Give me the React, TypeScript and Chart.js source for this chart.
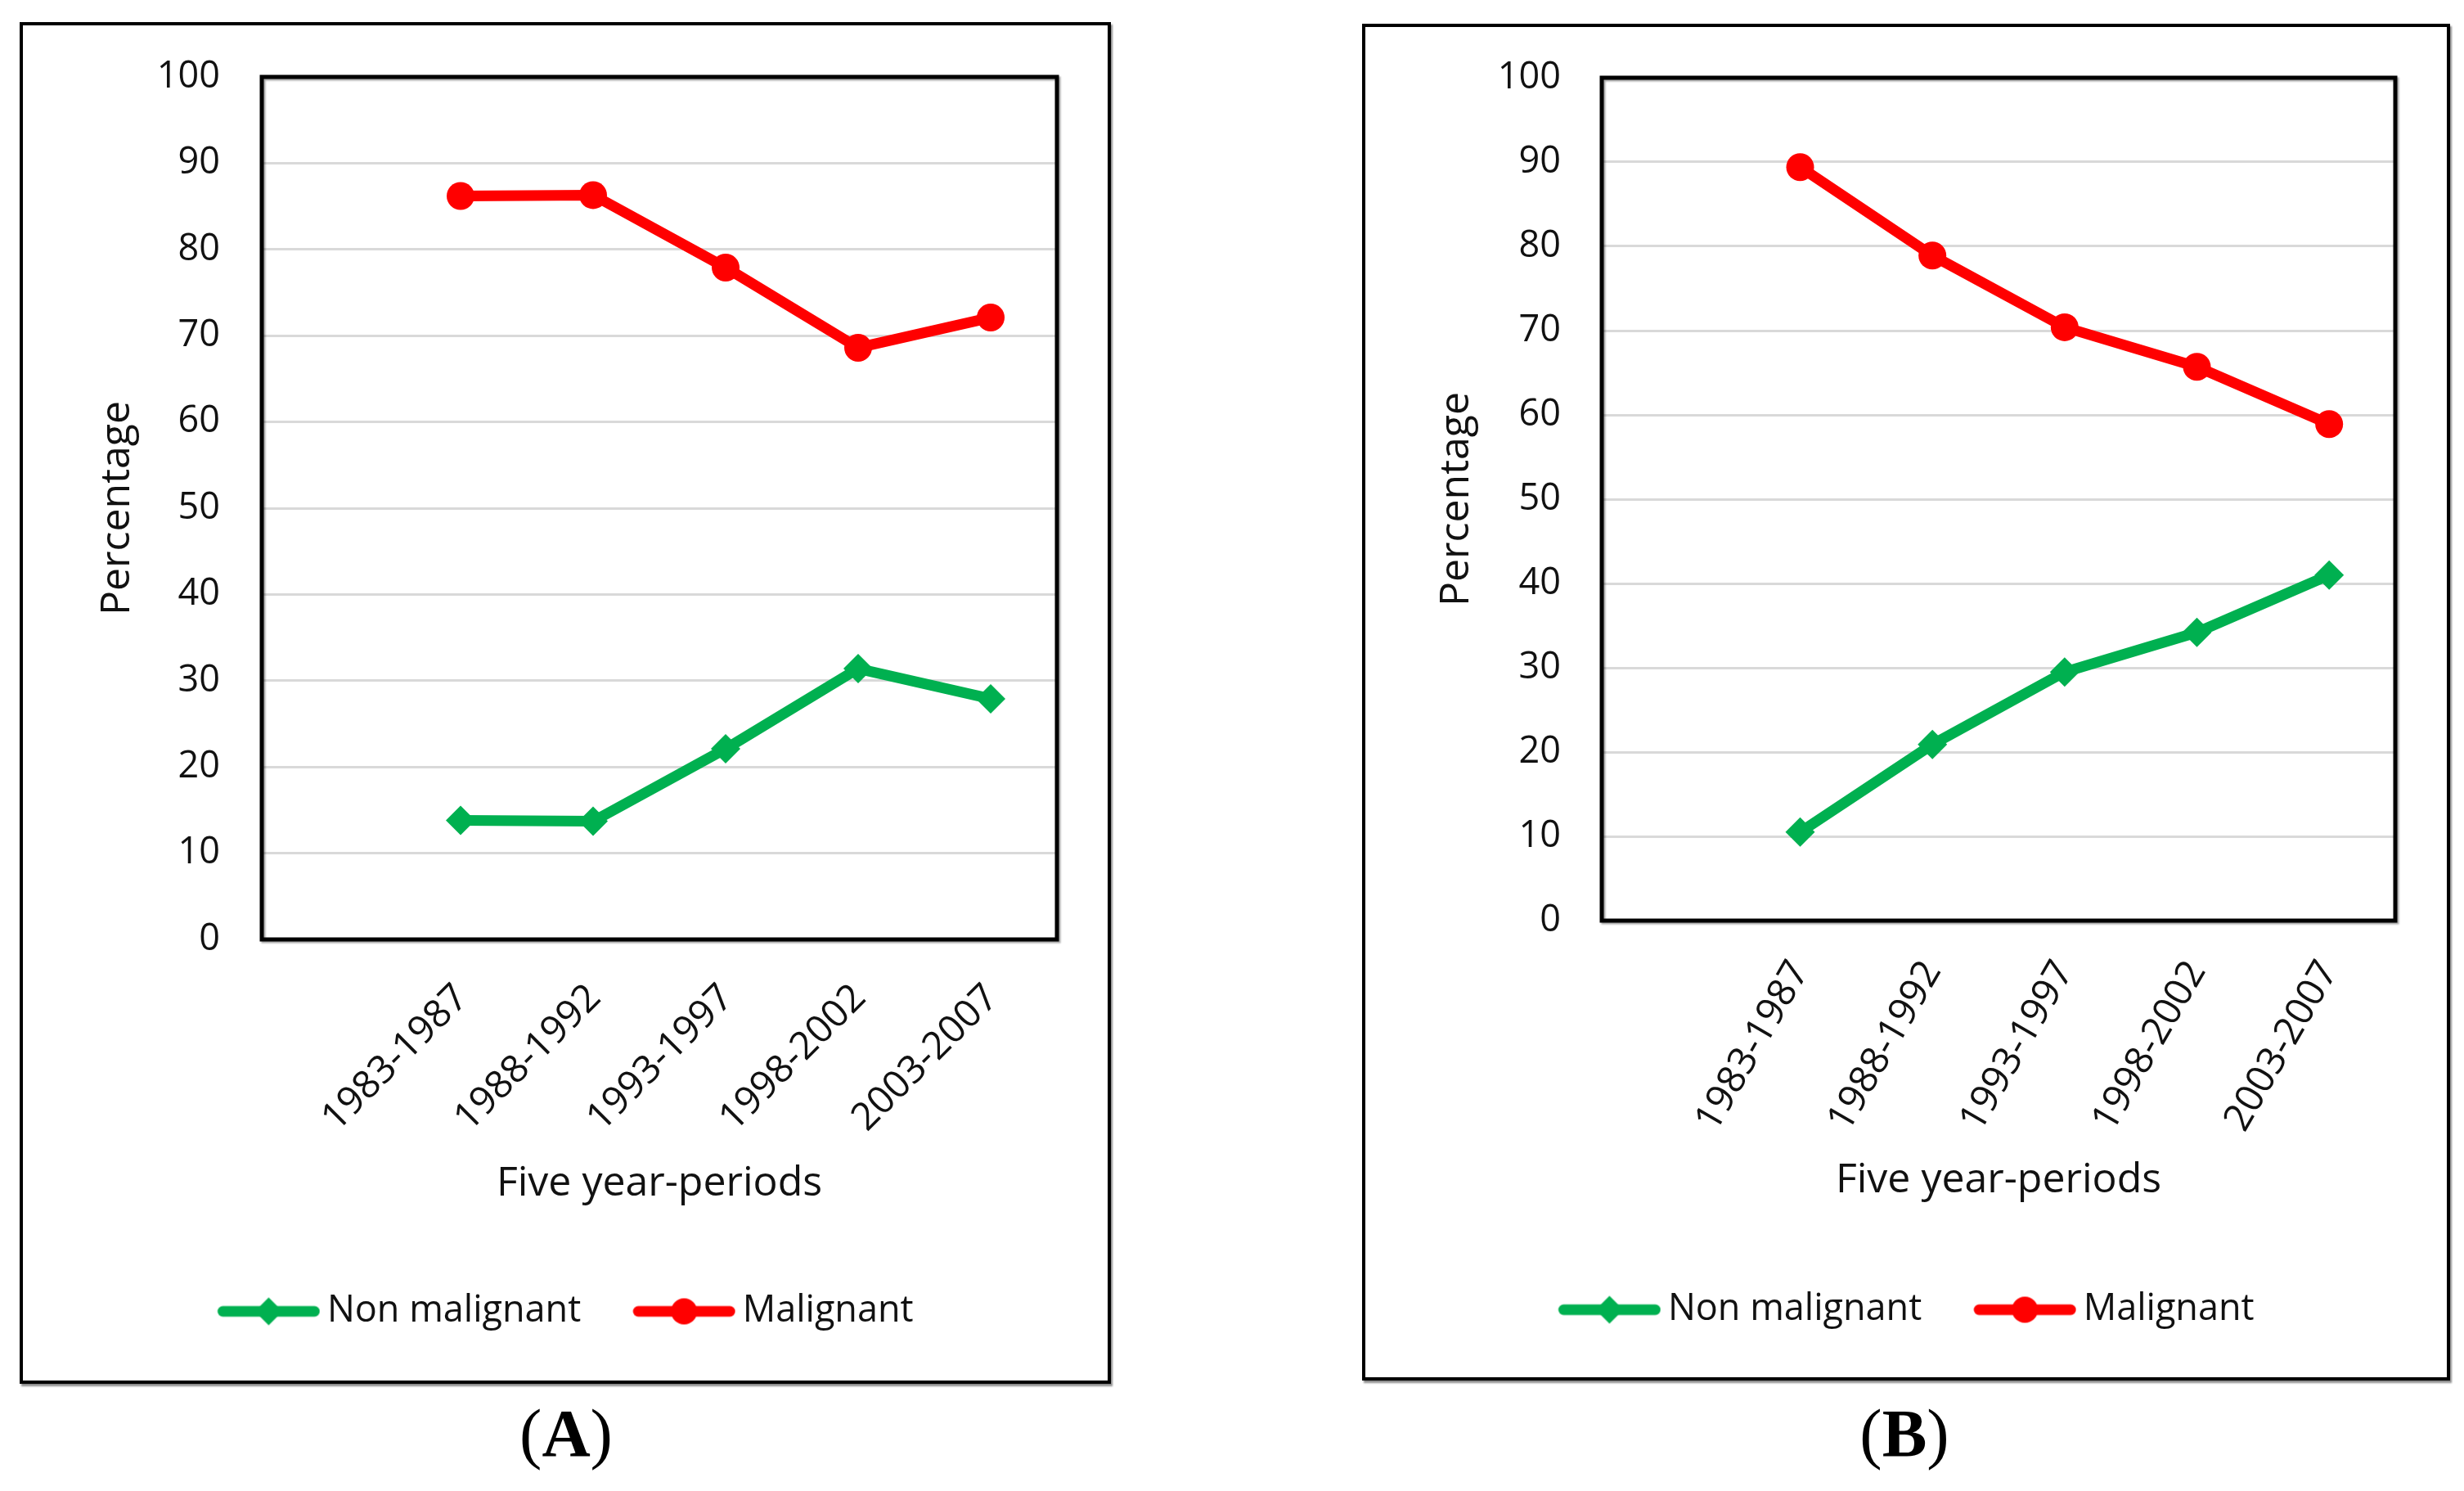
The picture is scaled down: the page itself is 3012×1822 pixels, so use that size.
import React, { useEffect, useRef } from 'react';
import { Chart, registerables } from 'chart.js';

Chart.register(...registerables);

// ---------------- data ----------------
const periods = ['1983-1987', '1988-1992', '1993-1997', '1998-2002', '2003-2007'];
const nonMalignantA = [13.8, 13.7, 22.1, 31.4, 27.9];
const malignantA = [86.2, 86.3, 77.9, 68.6, 72.1];
const nonMalignantB = [10.5, 20.9, 29.5, 34.2, 41.0];
const malignantB = [89.4, 78.9, 70.4, 65.7, 58.9];
const seriesNames = ['Non malignant', 'Malignant'];
const seriesColors = ['#00B050', '#FF0000'];
const yMin = 0;
const yMax = 100;
const yStep = 10;
const xTitle = 'Five year-periods';
const yTitle = 'Percentage';
const panelLabels = ['A', 'B'];

const FONT = '"Open Sans", "Noto Sans", sans-serif';

function legendIcon(color: string, kind: 'diamond' | 'circle') {
  const c = document.createElement('canvas');
  c.width = 140;
  c.height = 40;
  const ctx = c.getContext('2d')!;
  ctx.strokeStyle = color;
  ctx.lineWidth = 13;
  ctx.lineCap = 'round';
  ctx.beginPath();
  ctx.moveTo(21, 20);
  ctx.lineTo(133, 20);
  ctx.stroke();
  ctx.fillStyle = color;
  ctx.beginPath();
  if (kind === 'circle') {
    ctx.arc(77, 20, 16, 0, Math.PI * 2);
  } else {
    ctx.moveTo(60, 20);
    ctx.lineTo(77, 3);
    ctx.lineTo(94, 20);
    ctx.lineTo(77, 37);
    ctx.closePath();
  }
  ctx.fill();
  return c;
}

const framePlugin = {
  id: 'plotFrame',
  beforeDatasetsDraw(chart: any) {
    const { ctx, chartArea: a } = chart;
    ctx.save();
    ctx.shadowColor = 'rgba(0,0,0,0.35)';
    ctx.shadowOffsetX = 2;
    ctx.shadowOffsetY = 2;
    ctx.shadowBlur = 2;
    ctx.strokeStyle = '#000';
    ctx.lineWidth = 5;
    ctx.strokeRect(a.left, a.top, a.right - a.left, a.bottom - a.top);
    ctx.restore();
  },
};

type PanelCfg = {
  box: { left: number; top: number; w: number; h: number };
  cw: number;
  ch: number;
  plot: { left: number; right: number; top: number; bottom: number };
  rot: number;
  tickPad: number;
  labelOffset: number;
  yTickPad: number;
  yTitlePad: number;
  xTitlePadBottom: number;
  legendPadBottom: number;
  nonMalignant: number[];
  malignant: number[];
};

const LEGEND_FONT = 45;
const LEGEND_PAD = 63;
const LEGEND_H = LEGEND_FONT + LEGEND_PAD + 10;

const panelA: PanelCfg = {
  box: { left: 24, top: 27, w: 1334, h: 1664 },
  cw: 1326,
  ch: 1656,
  plot: { left: 292, right: 1264, top: 63, bottom: 1117 },
  rot: 45,
  tickPad: 44,
  labelOffset: 2,
  yTickPad: 51,
  yTitlePad: 86,
  xTitlePadBottom: 40,
  legendPadBottom: 52,
  nonMalignant: nonMalignantA,
  malignant: malignantA,
};

const panelB: PanelCfg = {
  box: { left: 1665, top: 29, w: 1330, h: 1658 },
  cw: 1322,
  ch: 1650,
  plot: { left: 289, right: 1259, top: 62, bottom: 1092 },
  rot: 60,
  tickPad: 40,
  labelOffset: 0,
  yTickPad: 50,
  yTitlePad: 82,
  xTitlePadBottom: 42,
  legendPadBottom: 50,
  nonMalignant: nonMalignantB,
  malignant: malignantB,
};

function Panel({ cfg }: { cfg: PanelCfg }) {
  const ref = useRef<HTMLCanvasElement>(null);
  useEffect(() => {
    const icons = [legendIcon(seriesColors[0], 'diamond'), legendIcon(seriesColors[1], 'circle')];
    const labels = ['', ...periods];
    const legendTop = cfg.ch - cfg.legendPadBottom - LEGEND_H;
    const xHeight = legendTop - cfg.plot.bottom;
    const chart = new Chart(ref.current!, {
      type: 'line',
      data: {
        labels,
        datasets: [
          {
            label: seriesNames[0],
            data: [null, ...cfg.nonMalignant],
            borderColor: seriesColors[0],
            backgroundColor: seriesColors[0],
            borderWidth: 13,
            borderCapStyle: 'round',
            borderJoinStyle: 'round',
            pointStyle: 'rectRot',
            pointRadius: 18,
            pointBorderWidth: 0,
            yAxisID: 'y',
          },
          {
            label: seriesNames[1],
            data: [null, ...cfg.malignant],
            borderColor: seriesColors[1],
            backgroundColor: seriesColors[1],
            borderWidth: 13,
            borderCapStyle: 'round',
            borderJoinStyle: 'round',
            pointStyle: 'circle',
            pointRadius: 17,
            pointBorderWidth: 0,
            yAxisID: 'y',
          },
        ],
      },
      options: {
        animation: false,
        responsive: false,
        devicePixelRatio: 1,
        events: [],
        layout: {
          padding: { left: 0, right: 0, top: cfg.plot.top, bottom: cfg.legendPadBottom },
        },
        plugins: {
          tooltip: { enabled: false },
          legend: {
            position: 'bottom',
            labels: {
              usePointStyle: true,
              pointStyleWidth: 112,
              boxHeight: 20,
              padding: LEGEND_PAD,
              color: '#111',
              font: { family: FONT, size: LEGEND_FONT, lineHeight: 1 },
              generateLabels: (ch: any) => {
                const items = Chart.defaults.plugins.legend.labels.generateLabels(ch);
                return items.map((it: any) => ({ ...it, pointStyle: icons[it.datasetIndex] }));
              },
            },
          },
        },
        scales: {
          x: {
            type: 'category',
            offset: true,
            grid: { display: false, drawTicks: false },
            border: { display: false },
            ticks: {
              autoSkip: false,
              minRotation: cfg.rot,
              maxRotation: cfg.rot,
              padding: cfg.tickPad,
              labelOffset: cfg.labelOffset,
              color: '#111',
              font: { family: FONT, size: 47 },
            },
            title: {
              display: true,
              text: xTitle,
              color: '#111',
              font: { family: FONT, size: 50 },
              padding: { top: 0, bottom: cfg.xTitlePadBottom },
            },
            afterFit: (s: any) => {
              s.height = xHeight;
              s.paddingLeft = 0;
              s.paddingRight = 0;
            },
          },
          y: {
            type: 'linear',
            position: 'left',
            min: yMin,
            max: yMax,
            grid: { color: '#d9d9d9', lineWidth: 3, drawTicks: false },
            border: { display: false },
            ticks: {
              stepSize: yStep,
              padding: cfg.yTickPad,
              color: '#111',
              font: { family: FONT, size: 45 },
            },
            title: {
              display: true,
              text: yTitle,
              color: '#111',
              font: { family: FONT, size: 50 },
              padding: { top: cfg.yTitlePad, bottom: 0 },
            },
            afterFit: (s: any) => {
              s.width = cfg.plot.left;
              s.paddingTop = 0;
              s.paddingBottom = 0;
            },
          },
          yR: {
            type: 'linear',
            position: 'right',
            display: true,
            grid: { display: false, drawTicks: false },
            border: { display: false },
            ticks: { display: false },
            afterFit: (s: any) => {
              s.width = cfg.cw - cfg.plot.right;
              s.paddingTop = 0;
              s.paddingBottom = 0;
            },
          },
        },
      } as any,
      plugins: [framePlugin],
    });
    return () => chart.destroy();
  }, [cfg]);
  return (
    <div
      style={{
        position: 'absolute',
        left: cfg.box.left,
        top: cfg.box.top,
        width: cfg.box.w,
        height: cfg.box.h,
        border: '4px solid #000',
        boxSizing: 'border-box',
        boxShadow: '2px 3px 2px rgba(0,0,0,0.45)',
        background: '#fff',
      }}
    >
      <canvas ref={ref} width={cfg.cw} height={cfg.ch} style={{ display: 'block', width: cfg.cw, height: cfg.ch }} />
    </div>
  );
}

function PanelLabel({ text, cx }: { text: string; cx: number }) {
  return (
    <div
      style={{
        position: 'absolute',
        left: cx - 150,
        width: 300,
        top: 1711,
        textAlign: 'center',
        fontFamily: '"Liberation Serif", "DejaVu Serif", serif',
        fontSize: 82,
        lineHeight: '82px',
        color: '#000',
      }}
    >
      (<b>{text}</b>)
    </div>
  );
}

export default function App() {
  return (
    <div style={{ position: 'absolute', left: 0, top: 0, width: 3012, height: 1822, background: '#fff', overflow: 'hidden' }}>
      <Panel cfg={panelA} />
      <Panel cfg={panelB} />
      <PanelLabel text={panelLabels[0]} cx={692} />
      <PanelLabel text={panelLabels[1]} cx={2328} />
    </div>
  );
}
